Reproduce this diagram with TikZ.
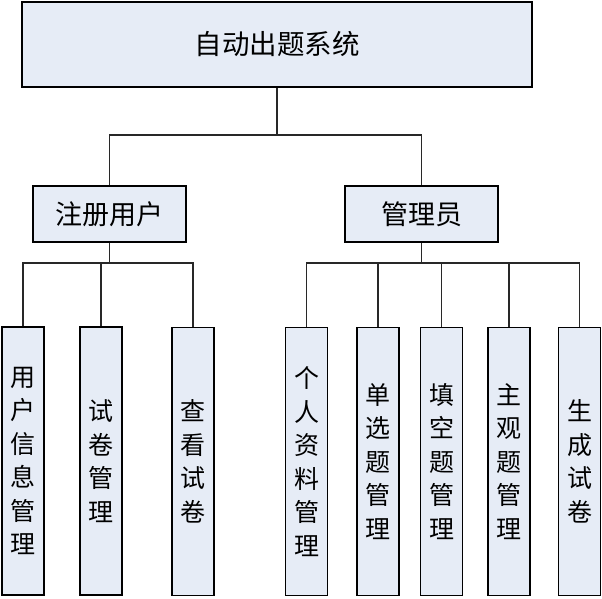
\documentclass[tikz,border=0pt]{standalone}
\usepackage{fontspec}
\setmainfont{Noto Sans CJK SC}
\usetikzlibrary{positioning}
\definecolor{boxfill}{RGB}{230,236,246}
\definecolor{linegray}{RGB}{40,40,40}
\tikzset{
box/.style={draw=black, fill=boxfill, line width=1.4pt, inner sep=0pt},
topbox/.style={box, minimum width=510pt, minimum height=85pt,
    font=\fontsize{27.5}{30}\selectfont},
midbox/.style={box, minimum width=153pt, minimum height=56pt,
    font=\fontsize{27}{30}\selectfont},
leafbox/.style={box, minimum width=42pt, minimum height=268pt, align=center,
    font=\fontsize{25}{33.5}\selectfont},
link/.style={draw=linegray, line width=1.3pt}
}

\begin{document}
\begin{tikzpicture}[x=1pt,y=-1pt]
\useasboundingbox (0,0) rectangle (602,599);

\node[topbox] (sys) at (277,44.5) {自动出题系统};

\node[midbox] (user) at (109.5,214) {注册用户};
\node[midbox] (admin) at (421.5,214) {管理员};

\node[leafbox] (info) at (23,461) {用\\户\\信\\息\\管\\理};
\node[leafbox] (paper) at (101,461) {试\\卷\\管\\理};
\node[leafbox] (view) at (193,461.5) {查\\看\\试\\卷};

\node[leafbox] (profile) at (306.5,461.5) {个\\人\\资\\料\\管\\理};
\node[leafbox] (single) at (378,461.5) {单\\选\\题\\管\\理};
\node[leafbox] (blank) at (441.5,461.5) {填\\空\\题\\管\\理};
\node[leafbox] (essay) at (509,461.5) {主\\观\\题\\管\\理};
\node[leafbox] (make) at (579.5,461.5) {生\\成\\试\\卷};

% first level
\draw[link] (sys.south) -- (sys.south |- 0,135) coordinate (j0);
\draw[link] (user.north) |- (j0) -| (admin.north);

% registered user
\draw[link] (user.south) -- (user.south |- 0,263) coordinate (j1);
\draw[link] (info.north) |- (j1) -| (view.north);
\draw[link] (paper.north) -- (paper.north |- j1);

% administrator
\draw[link] (admin.south) -- (admin.south |- 0,263) coordinate (j2);
\draw[link] (profile.north) |- (j2) -| (make.north);
\draw[link] (single.north) -- (single.north |- j2);
\draw[link] (blank.north) -- (blank.north |- j2);
\draw[link] (essay.north) -- (essay.north |- j2);
\end{tikzpicture}
\end{document}
